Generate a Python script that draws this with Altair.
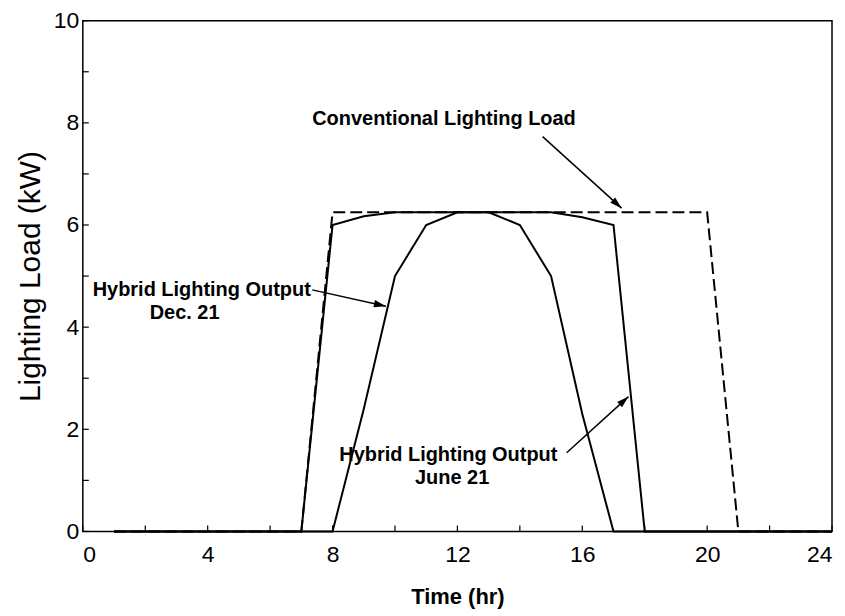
import math
import altair as alt
import pandas as pd

# ---- data ----
hours = list(range(1, 25))
conventional = [0, 0, 0, 0, 0, 0, 0, 6.25, 6.25, 6.25, 6.25, 6.25, 6.25, 6.25,
                6.25, 6.25, 6.25, 6.25, 6.25, 6.25, 0, 0, 0, 0]
june21 = [0, 0, 0, 0, 0, 0, 0, 6.0, 6.17, 6.25, 6.25, 6.25, 6.25, 6.25,
          6.25, 6.15, 6.0, 0, 0, 0, 0, 0, 0, 0]
dec21 = [0, 0, 0, 0, 0, 0, 0, 0, 2.4, 5.0, 6.0, 6.25, 6.25, 6.0,
         5.0, 2.3, 0, 0, 0, 0, 0, 0, 0, 0]

x_ticks = list(range(0, 25, 2))
y_ticks = list(range(0, 11, 1))

# annotations (data coordinates)
ann_text = ["Conventional Lighting Load", "Hybrid Lighting Output", "Dec. 21",
            "Hybrid Lighting Output", "June 21"]
ann_x = [11.57, 3.81, 3.26, 11.71, 11.83]
ann_y = [8.07, 4.73, 4.28, 1.50, 1.05]

arrow_x0 = [14.73, 7.35, 15.50]
arrow_y0 = [7.73, 4.73, 1.54]
arrow_x1 = [17.26, 9.71, 17.48]
arrow_y1 = [6.33, 4.41, 2.64]

W, H = 751, 512
XMAX, YMAX = 24, 10
FONT = "Liberation Sans"

df_conv = pd.DataFrame({"x": hours, "y": conventional})
df_june = pd.DataFrame({"x": hours, "y": june21})
df_dec = pd.DataFrame({"x": hours, "y": dec21})

xs = alt.Scale(domain=[0, XMAX], nice=False, zero=False)
ys = alt.Scale(domain=[0, YMAX], nice=False)

x_axis = alt.Axis(values=x_ticks, labelExpr="datum.value % 4 === 0 ? datum.label : ''",
                  grid=False, domain=False, ticks=False, labelFontSize=23, labelFont=FONT,
                  labelColor="black", labelPadding=12, title="Time (hr)", titleFont=FONT,
                  titleFontSize=22, titleFontWeight="bold", titleColor="black", titlePadding=20)
y_axis = alt.Axis(values=y_ticks, labelExpr="datum.value % 2 === 0 ? datum.label : ''",
                  grid=False, domain=False, ticks=False, labelFontSize=23, labelFont=FONT,
                  labelColor="black", labelPadding=4, title="Lighting Load (kW)", titleFont=FONT,
                  titleFontSize=30, titleFontWeight="normal", titleColor="black", titlePadding=8)

base_x = alt.X("x:Q", scale=xs, axis=x_axis)
base_y = alt.Y("y:Q", scale=ys, axis=y_axis)

conv_line = alt.Chart(df_conv).mark_line(color="black", strokeWidth=2, strokeDash=[12, 5]).encode(
    x=base_x, y=base_y)
june_line = alt.Chart(df_june).mark_line(color="black", strokeWidth=2).encode(
    x=alt.X("x:Q", scale=xs), y=alt.Y("y:Q", scale=ys))
dec_line = alt.Chart(df_dec).mark_line(color="black", strokeWidth=2).encode(
    x=alt.X("x:Q", scale=xs), y=alt.Y("y:Q", scale=ys))

xt = alt.Chart(pd.DataFrame({"x": x_ticks})).mark_rule(color="black", strokeWidth=1.2).encode(
    x=alt.X("x:Q", scale=xs), y=alt.value(H), y2=alt.value(H - 6))
yt = alt.Chart(pd.DataFrame({"y": y_ticks})).mark_rule(color="black", strokeWidth=1.2).encode(
    y=alt.Y("y:Q", scale=ys), x=alt.value(0), x2=alt.value(6))

df_ann = pd.DataFrame({"t": ann_text, "x": ann_x, "y": ann_y})
texts = alt.Chart(df_ann).mark_text(font=FONT, fontSize=20, fontWeight="bold", color="black",
                                    align="center", baseline="middle").encode(
    x=alt.X("x:Q", scale=xs), y=alt.Y("y:Q", scale=ys), text="t:N")

df_arr = pd.DataFrame({"x": arrow_x0, "y": arrow_y0, "x2": arrow_x1, "y2": arrow_y1})
# arrowhead rotation from screen-space direction
angles = []
for a, b, c, d in zip(arrow_x0, arrow_y0, arrow_x1, arrow_y1):
    dx = (c - a) * W / XMAX
    dy = -(d - b) * H / YMAX
    angles.append(math.degrees(math.atan2(dx, -dy)) % 360)
df_arr["angle"] = angles

shafts = alt.Chart(df_arr).mark_rule(color="black", strokeWidth=1.5).encode(
    x=alt.X("x:Q", scale=xs), y=alt.Y("y:Q", scale=ys), x2="x2:Q", y2="y2:Q")
heads = alt.Chart(df_arr).mark_point(shape="M0,0 L0.3,1 L-0.3,1 Z", filled=True, color="black",
                                     size=576, opacity=1).encode(
    x=alt.X("x2:Q", scale=xs), y=alt.Y("y2:Q", scale=ys),
    angle=alt.Angle("angle:Q", scale=None))

chart = alt.layer(conv_line, june_line, dec_line, xt, yt, shafts, heads, texts).properties(
    width=W, height=H,
    background="white",
    padding={"left": 75, "top": 12, "right": 5, "bottom": 80},
    autosize=alt.AutoSizeParams(type="none"),
).configure_view(stroke="black", strokeWidth=1.5)

chart.save("out.html", embed_options={"renderer": "svg", "actions": False})
